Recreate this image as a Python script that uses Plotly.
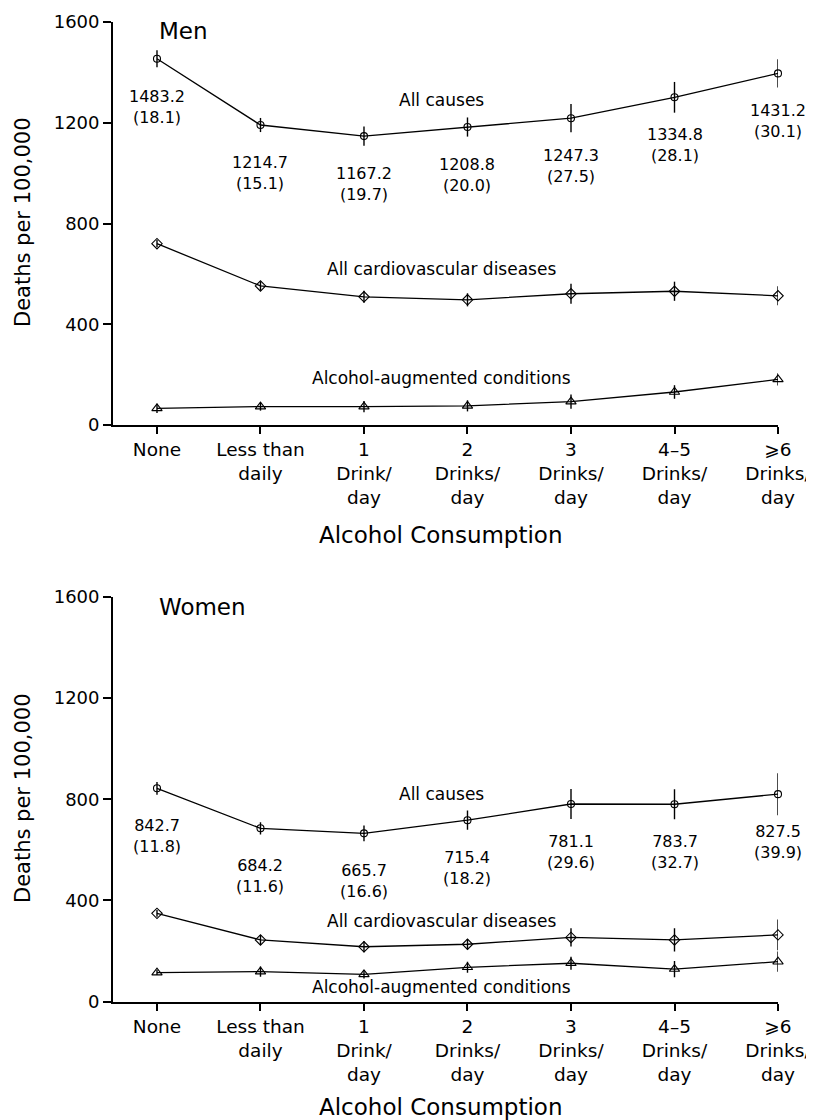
import plotly.graph_objects as go

categories = ["None", "Less than<br>daily", "1<br>Drink/<br>day", "2<br>Drinks/<br>day",
              "3<br>Drinks/<br>day", "4–5<br>Drinks/<br>day", "⩾6<br>Drinks/<br>day"]

# Men (plotted positions and error half-widths)
men_all = [1454, 1191, 1147, 1183, 1218, 1301, 1396]
men_all_err = [34, 28, 38, 38, 56, 61, 56]
men_cvd = [720, 552, 509, 497, 521, 531, 513]
men_cvd_err = [14, 18, 24, 26, 40, 38, 38]
men_alc = [66, 73, 73, 76, 93, 131, 181]
men_alc_err = [18, 16, 22, 22, 28, 27, 24]
men_labels = ["1483.2", "1214.7", "1167.2", "1208.8", "1247.3", "1334.8", "1431.2"]
men_se = ["18.1", "15.1", "19.7", "20.0", "27.5", "28.1", "30.1"]

# Women
women_all = [843, 685, 665, 717, 781, 780, 820]
women_all_err = [25, 24, 31, 38, 59, 59, 83]
women_cvd = [349, 244, 217, 227, 254, 244, 264]
women_cvd_err = [13, 20, 22, 21, 36, 46, 61]
women_alc = [115, 119, 108, 136, 152, 129, 158]
women_alc_err = [10, 20, 16, 22, 26, 32, 40]
women_labels = ["842.7", "684.2", "665.7", "715.4", "781.1", "783.7", "827.5"]
women_se = ["11.8", "11.6", "16.6", "18.2", "29.6", "32.7", "39.9"]

yticks = [0, 400, 800, 1200, 1600]

FONT = "DejaVu Sans"
OFF = 8                      # page body margin
W, H = 814 - OFF, 1120 - OFF


def px(x):
    return (x - OFF) / W


def py(y):
    return 1 - (y - OFF) / H


fig = go.Figure()


def add_series(y, err, symbol, size, xa, ya, name):
    fig.add_trace(go.Scatter(
        x=categories, y=y, mode="lines+markers", name=name,
        xaxis=xa, yaxis=ya, cliponaxis=False, showlegend=False,
        line=dict(color="black", width=1.3),
        marker=dict(symbol=symbol, size=size, color="black",
                    line=dict(color="black", width=1.1)),
        error_y=dict(type="data", array=err, visible=True, width=0,
                     thickness=1.4, color="black"),
    ))


add_series(men_all, men_all_err, "circle-open", 7, "x", "y", "All causes (men)")
add_series(men_cvd, men_cvd_err, "diamond-open", 8, "x", "y", "CVD (men)")
add_series(men_alc, men_alc_err, "triangle-up-open", 9, "x", "y", "Alcohol (men)")
add_series(women_all, women_all_err, "circle-open", 7, "x2", "y2", "All causes (women)")
add_series(women_cvd, women_cvd_err, "diamond-open", 8, "x2", "y2", "CVD (women)")
add_series(women_alc, women_alc_err, "triangle-up-open", 9, "x2", "y2", "Alcohol (women)")

annotations = []
for vals, labs, ses, xr, yr in [(men_all, men_labels, men_se, "x", "y"),
                                (women_all, women_labels, women_se, "x2", "y2")]:
    for i, (v, l, s) in enumerate(zip(vals, labs, ses)):
        annotations.append(dict(x=i, y=v, xref=xr, yref=yr, yshift=-48,
                                text=f"{l}<br>({s})", showarrow=False,
                                xanchor="center", yanchor="middle",
                                font=dict(family=FONT, size=16, color="black")))

series_font = dict(family=FONT, size=17, color="black")
for txt, yv, yr in [("All causes", 1290, "y"), ("All cardiovascular diseases", 621, "y"),
                    ("Alcohol-augmented conditions", 187, "y"),
                    ("All causes", 821, "y2"), ("All cardiovascular diseases", 319, "y2"),
                    ("Alcohol-augmented conditions", 58, "y2")]:
    xr = "x" if yr == "y" else "x2"
    annotations.append(dict(x=2.744, y=yv, xref=xr, yref=yr, text=txt, showarrow=False,
                            xanchor="center", yanchor="middle", font=series_font))

annotations.append(dict(x=0, y=1564, xref="x", yref="y", text="Men", showarrow=False,
                        xanchor="left", yanchor="middle",
                        font=dict(family=FONT, size=23, color="black")))
annotations.append(dict(x=0, y=1559, xref="x2", yref="y2", text="Women", showarrow=False,
                        xanchor="left", yanchor="middle",
                        font=dict(family=FONT, size=23, color="black")))

title_font = dict(family=FONT, size=21, color="black")
for yc in [222, 798]:
    annotations.append(dict(x=px(23), y=py(yc), xref="paper", yref="paper",
                            text="Deaths per 100,000", textangle=-90, showarrow=False,
                            xanchor="center", yanchor="middle", font=title_font))
xt_font = dict(family=FONT, size=23, color="black")
for yc in [535, 1107]:
    annotations.append(dict(x=px(441), y=py(yc), xref="paper", yref="paper",
                            text="Alcohol Consumption", showarrow=False,
                            xanchor="center", yanchor="middle", font=xt_font))

xdom = [px(113), px(778)]
xaxis_common = dict(
    type="category", range=[-0.425, 6], domain=xdom, showgrid=False, zeroline=False,
    showline=True, linecolor="black", linewidth=1.8, ticks="outside", ticklen=7,
    tickwidth=1.5, tickcolor="black", automargin=False,
    tickfont=dict(family=FONT, size=18.5, color="black"), fixedrange=True,
)
yaxis_common = dict(
    range=[0, 1600], tickvals=yticks, showgrid=False, zeroline=False,
    showline=True, linecolor="black", linewidth=1.8, ticks="outside", ticklen=8,
    tickwidth=1.5, tickcolor="black", automargin=False,
    tickfont=dict(family=FONT, size=18, color="black"), fixedrange=True,
)

fig.update_layout(
    width=W, height=H,
    margin=dict(l=0, r=0, t=0, b=0),
    paper_bgcolor="white", plot_bgcolor="white",
    font=dict(family=FONT, color="black"),
    xaxis=dict(**xaxis_common, anchor="y"),
    yaxis=dict(**yaxis_common, domain=[py(425), py(22)], anchor="x"),
    xaxis2=dict(**xaxis_common, anchor="y2"),
    yaxis2=dict(**yaxis_common, domain=[py(1001.7), py(596.7)], anchor="x2"),
    annotations=annotations,
    showlegend=False,
)

fig.write_html("out.html")
